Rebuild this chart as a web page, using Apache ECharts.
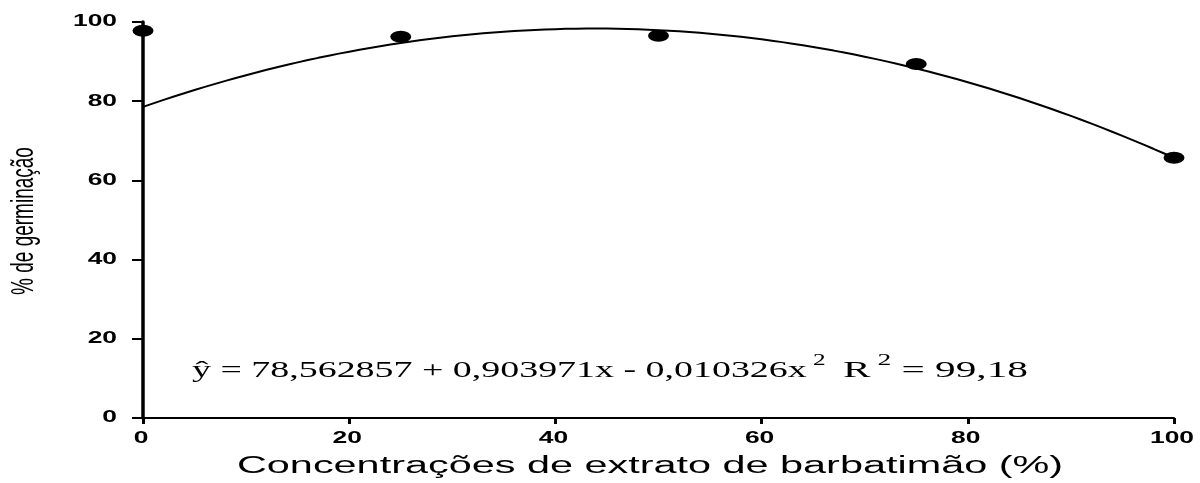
<!DOCTYPE html>
<html>
<head>
<meta charset="utf-8">
<script src="https://cdn.jsdelivr.net/npm/echarts@6/dist/echarts.min.js"></script>
<style>
  html, body { margin: 0; padding: 0; background: #fff; }
  #chart { width: 1200px; height: 483px; }
</style>
</head>
<body>
<div id="chart"></div>
<script>
// Observed germination (%) at each extract concentration (%)
const concentrations = [0, 25, 50, 75, 100];
const germination = [97.8, 96.3, 96.5, 89.4, 65.7];

// Quadratic fit: y = b0 + b1*x + b2*x^2 (coefficients as printed)
const coefficients = [78.562857, 0.903971, -0.010326];
const rSquared = '99,18';

const xTicks = [0, 20, 40, 60, 80, 100];
const yTicks = [0, 20, 40, 60, 80, 100];

const xTitle = 'Concentrações de extrato de barbatimão (%)';
const yTitle = '% de germinação';

// Wide-set lettering used throughout the figure
const STRETCH = 1.65;
const SANS = 'Liberation Sans, Arial, sans-serif';
const SERIF = 'Liberation Serif, Times New Roman, serif';

const observed = concentrations.map((c, i) => [c, germination[i]]);
const fitted = [];
for (let x = 0; x <= 100; x += 1) {
  fitted.push([x, coefficients[0] + coefficients[1] * x + coefficients[2] * x * x]);
}

const chart = echarts.init(document.getElementById('chart'), null, { renderer: 'canvas' });

chart.setOption({
  animation: false,
  backgroundColor: '#ffffff',
  grid: { left: 143, right: 26, top: 22, bottom: 65 },
  xAxis: {
    type: 'value', min: 0, max: 100, interval: 20,
    axisLine: { lineStyle: { color: '#000', width: 2 } },
    axisTick: { show: true, inside: false, length: 6, lineStyle: { color: '#000', width: 3 } },
    axisLabel: { show: false },
    splitLine: { show: false }
  },
  yAxis: {
    type: 'value', min: 0, max: 100, interval: 20,
    axisLine: { show: true, lineStyle: { color: '#000', width: 3.5 } },
    axisTick: { show: true, inside: false, length: 11, lineStyle: { color: '#000', width: 2 } },
    axisLabel: { show: false },
    splitLine: { show: false }
  },
  series: [
    {
      type: 'line',
      data: fitted,
      showSymbol: false,
      smooth: false,
      lineStyle: { color: '#000', width: 2 },
      z: 2
    },
    {
      type: 'scatter',
      data: observed,
      symbol: 'path://M0 50A50 50 0 1 0 100 50A50 50 0 1 0 0 50Z',
      symbolSize: [21, 12],
      itemStyle: { color: '#000', opacity: 1 },
      z: 3
    }
  ]
});

// Tick labels and titles, placed through the axes' own scales
const graphics = [];
yTicks.forEach(v => {
  const py = chart.convertToPixel({ yAxisIndex: 0 }, v);
  graphics.push({
    type: 'text', x: 117, y: py, scaleX: STRETCH, silent: true,
    style: { text: String(v), font: 'bold 16px ' + SANS, fill: '#000',
             textAlign: 'right', textVerticalAlign: 'middle' }
  });
});
xTicks.forEach(v => {
  const px = chart.convertToPixel({ xAxisIndex: 0 }, v);
  graphics.push({
    type: 'text', x: px - 2, y: 439, scaleX: STRETCH, silent: true,
    style: { text: String(v), font: 'bold 16px ' + SANS, fill: '#000',
             textAlign: 'center', textVerticalAlign: 'middle' }
  });
});
graphics.push({
  type: 'text', x: 650, y: 467, scaleX: 1.8, silent: true,
  style: { text: xTitle, font: '23px ' + SANS, fill: '#000',
           textAlign: 'center', textVerticalAlign: 'middle' }
});
graphics.push({
  type: 'text', x: 24, y: 221, rotation: Math.PI / 2, scaleY: STRETCH, silent: true,
  style: { text: yTitle, font: '19px ' + SANS, fill: '#000',
           textAlign: 'center', textVerticalAlign: 'middle' }
});

// Regression equation and coefficient of determination
const fmt = n => Math.abs(n).toFixed(6).replace('.', ',');
const eqRich = {
  m: { font: '24px ' + SERIF, lineHeight: 30, verticalAlign: 'bottom' },
  s: { font: '16px ' + SERIF, lineHeight: 30, verticalAlign: 'top' }
};
graphics.push({
  type: 'text', x: 192, y: 368, scaleX: 1.58, silent: true,
  style: {
    text: '{m|ŷ = ' + fmt(coefficients[0]) + ' + ' + fmt(coefficients[1]) + 'x - ' +
          fmt(coefficients[2]) + 'x}{s| 2}',
    fill: '#000', textAlign: 'left', textVerticalAlign: 'middle', rich: eqRich
  }
});
graphics.push({
  type: 'text', x: 843, y: 368, scaleX: 1.72, silent: true,
  style: {
    text: '{m|R}{s| 2}{m| = ' + rSquared + '}',
    fill: '#000', textAlign: 'left', textVerticalAlign: 'middle', rich: eqRich
  }
});

chart.setOption({ graphic: graphics });
</script>
</body>
</html>
